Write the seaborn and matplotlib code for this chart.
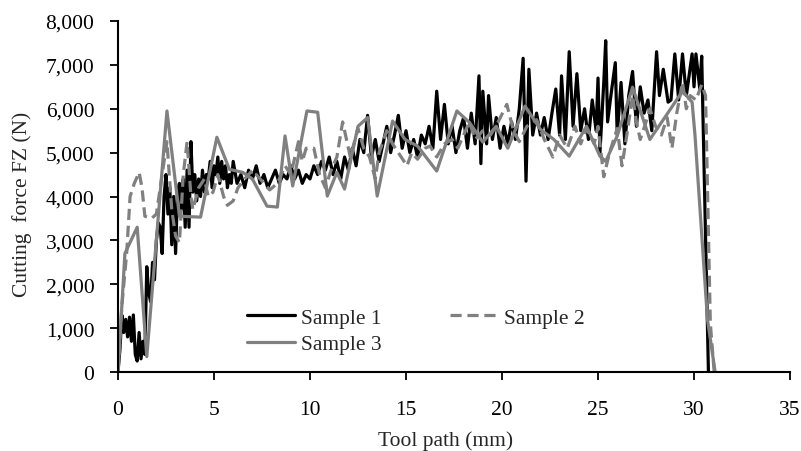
import numpy as np
import pandas as pd
import matplotlib
matplotlib.use("Agg")
import matplotlib.pyplot as plt
import seaborn as sns

# Sample 1 (black, dense)
s1_x = [0.0, 0.1, 0.2, 0.3, 0.4, 0.5, 0.6, 0.7, 0.8, 0.9, 1.0, 1.1, 1.2, 1.3, 1.4,
        1.5, 1.6, 1.7, 1.8, 1.9, 2.0, 2.1, 2.2, 2.3, 2.4, 2.5, 2.6, 2.7, 2.8, 2.9,
        3.0, 3.1, 3.2, 3.3, 3.4, 3.5, 3.6, 3.7, 3.8, 3.9, 4.0, 4.1, 4.2, 4.3, 4.4,
        4.5, 4.6, 4.7, 4.8, 4.9, 5.0, 5.1, 5.2, 5.3, 5.4, 5.5, 5.6, 5.7, 5.8, 5.9,
        6.0, 6.2, 6.4, 6.6, 6.8, 7.0, 7.2, 7.4, 7.6, 7.8, 8.0, 8.2, 8.4, 8.6, 8.8,
        9.0, 9.2, 9.4, 9.6, 9.8, 10.0, 10.2, 10.4, 10.6, 10.8, 11.0, 11.2, 11.4,
        11.6, 11.8, 12.0, 12.2, 12.4, 12.6, 12.8, 13.0, 13.2, 13.4, 13.6, 13.8,
        14.0, 14.2, 14.4, 14.6, 14.8, 15.0, 15.2, 15.4, 15.6, 15.8, 16.0, 16.2,
        16.4, 16.6, 16.8, 17.0, 17.2, 17.4, 17.6, 17.8, 18.0, 18.2, 18.4, 18.6,
        18.8, 18.9, 19.0, 19.2, 19.3, 19.5, 19.7, 19.9, 20.1, 20.3, 20.5, 20.7,
        20.9, 21.1, 21.25, 21.4, 21.6, 21.8, 22.0, 22.2, 22.4, 22.6, 22.8, 23.0,
        23.1, 23.3, 23.5, 23.7, 23.9, 24.1, 24.3, 24.5, 24.7, 24.9, 25.0, 25.1,
        25.3, 25.4, 25.5, 25.7, 25.9, 26.0, 26.2, 26.4, 26.6, 26.8, 27.0, 27.2,
        27.4, 27.6, 27.8, 28.05, 28.2, 28.4, 28.65, 28.8, 29.0, 29.2, 29.4, 29.6,
        29.9, 30.0, 30.1, 30.3, 30.4, 30.75]
s1_y = [0, 500, 1300, 900, 1200, 800, 1250, 700, 1300, 400, 250, 900, 300, 700, 400,
        2400, 1800, 1600, 2500, 2100, 3000, 3400, 3300, 2700, 4000, 4500, 3600, 4200, 2900, 4000,
        2700, 4100, 4300, 3700, 4400, 3300, 4600, 3300, 5250, 4100, 4500, 3900, 4400, 4000, 4600,
        4100, 4500, 4400, 4800, 4200, 4700, 4500, 4900, 4300, 4800, 4400, 4700, 4200, 4500, 4300,
        4800, 4300, 4500, 4200, 4600, 4400, 4700, 4300, 4500, 4200, 4400, 4600, 4300, 4500, 4400,
        4700, 4400, 4600, 4300, 4500, 4400, 4700, 4500, 4800, 4600, 4900, 4500, 4800,
        4400, 4900, 4600, 5100, 4700, 5300, 5000, 5850, 4900, 5300, 4800, 5200,
        5600, 5000, 5400, 5850, 5100, 5500, 5000, 5300, 4900, 5400, 5200, 5600,
        5100, 6400, 5300, 6100, 5200, 5600, 5000, 5500, 5800, 5100, 5900, 5200,
        6750, 4750, 6400, 5200, 6300, 5300, 5800, 5100, 5600, 5200, 5700, 5300,
        6000, 7150, 4350, 6900, 5400, 5900, 5400, 5800, 5300, 5900, 6450, 5400,
        6750, 5300, 7300, 5600, 6800, 5500, 6000, 5300, 6200, 5500, 6700, 5000,
        6600, 7550, 5700, 6400, 7050, 5400, 6600, 5200, 6300, 6850, 5600, 6500,
        5900, 6200, 5500, 7300, 6300, 6900, 6150, 6200, 7250, 6200, 7250, 6300,
        7250, 6500, 7250, 6450, 7200, 0]

# Sample 2 (grey dashed)
s2_x = [0.0, 0.2, 0.45, 0.63, 0.85, 1.1, 1.25, 1.4, 1.75, 2.0, 2.2, 2.55, 2.8, 3.0,
        3.2, 3.4, 3.6, 3.8, 3.9, 4.2, 4.5, 4.7, 4.95, 5.2, 5.5, 5.7, 6.0, 6.25, 6.6,
        7.0, 7.4, 7.9, 8.3, 8.7, 9.0, 9.4, 9.6, 9.8, 10.2, 10.5, 10.8, 11.1, 11.4,
        11.7, 12.1, 12.5, 12.8, 13.1, 13.4, 13.6, 14.0, 14.3, 14.6, 15.05, 15.3,
        15.6, 16.0, 16.25, 16.6, 17.0, 17.4, 17.7, 18.0, 18.3, 18.6, 19.0, 19.4,
        19.8, 20.25, 20.6, 20.9, 21.3, 21.8, 22.2, 22.65, 23.0, 23.4, 23.8, 24.1,
        24.4, 24.8, 25.0, 25.3, 25.6, 26.0, 26.25, 26.5, 26.8, 27.0, 27.2, 27.5,
        27.7, 28.0, 28.3, 28.6, 28.85, 29.1, 29.4, 29.6, 29.8, 30.1, 30.4, 30.6,
        30.85, 31.05]
s2_y = [0, 1500, 2700, 4000, 4300, 4550, 4200, 3550, 3500, 3600, 4200, 5250, 3700, 3100,
        2950, 4500, 5250, 4000, 3700, 4200, 4400, 4000, 4100, 4500, 4000, 3800, 3900, 4200, 4400,
        4600, 4400, 4150, 4300, 4700, 4500, 5250, 4800, 5100, 5100, 4500, 4200, 4600, 4900,
        5700, 4900, 5550, 5100, 4900, 4400, 5000, 5500, 5200, 5000, 4700, 5000,
        4850, 5100, 5150, 4900, 5200, 5300, 5100, 5400, 5700, 5300, 5500, 5400,
        5700, 6100, 5500, 5250, 5600, 5750, 5300, 4900, 5400, 5100, 5600, 5200,
        5550, 5200, 5600, 4450, 5000, 5550, 4700, 5400, 6300, 5700, 5300, 5700,
        6000, 5600, 5400, 5800, 5100, 5900, 6600, 6000, 6300, 6200, 6550, 6300,
        1100, 0]

# Sample 3 (grey solid)
s3_x = [0.0, 0.36, 1.0, 1.5, 2.55, 3.2, 4.3, 5.15, 5.8, 6.5, 7.0, 7.76, 8.3, 8.7, 9.1,
        9.84, 10.4, 10.9, 11.4, 11.8, 12.5, 13.0, 13.5, 14.3, 14.95, 15.6, 16.6, 17.65,
        18.3, 19.0, 19.7, 20.3, 21.2, 22.0, 22.7, 23.5, 24.4, 25.1, 25.4, 26.0, 26.8,
        27.7, 28.6, 29.4, 29.9, 30.05, 30.7, 31.1]
s3_y = [0, 2700, 3300, 350, 5950, 3550, 3530, 5350, 4620, 4550, 4400, 3780, 3760, 5380, 4240,
        5950, 5920, 4010, 4550, 4170, 5600, 5800, 4010, 5720, 5300, 5150, 4580, 5950,
        5690, 5240, 5600, 5100, 6060, 5530, 5300, 4920, 5600, 4920, 4800, 5380, 6490,
        5300, 5880, 6400, 6150, 5400, 1200, 0]

x_ticks = [0, 5, 10, 15, 20, 25, 30, 35]
y_ticks = [0, 1000, 2000, 3000, 4000, 5000, 6000, 7000, 8000]

sns.set_style("ticks")
plt.rcParams["font.family"] = ["Liberation Serif", "DejaVu Serif"]
fs = 15.5
plt.rcParams["font.size"] = fs

fig = plt.figure(figsize=(8.01, 4.52), dpi=100)
ax = fig.add_axes([0.1473, 0.1748, 0.8390, 0.7765])

grey = "#808080"
lw = 2.3
sns.lineplot(x=s1_x, y=s1_y, ax=ax, color="black", linewidth=lw, label="Sample 1",
             estimator=None, sort=False)
sns.lineplot(x=s3_x, y=s3_y, ax=ax, color=grey, linewidth=lw, label="Sample 3",
             estimator=None, sort=False)
sns.lineplot(x=s2_x, y=s2_y, ax=ax, color=grey, linewidth=lw, label="Sample 2",
             estimator=None, sort=False, linestyle=(0, (3.5, 1.8)))

ax.set_xlim(0, 35)
ax.set_ylim(0, 8000)
ax.set_xticks(x_ticks)
ax.set_yticks(y_ticks)
ax.set_yticklabels([f"{v:,}" for v in y_ticks])
ax.set_xlabel("Tool path (mm)")
ax.set_ylabel("Cutting  force FZ (N)")
ax.xaxis.set_label_coords(0.488, -0.165)
ax.yaxis.set_label_coords(-0.128, 0.48)
sns.despine(ax=ax)
for s in ["left", "bottom"]:
    ax.spines[s].set_linewidth(1.5)
    ax.spines[s].set_color("black")
ax.tick_params(axis="both", direction="out", length=6, width=1.3, colors="black",
               labelsize=fs)
ax.tick_params(axis="y", pad=11)
ax.tick_params(axis="x", pad=14)

handles, labels = ax.get_legend_handles_labels()
ax.legend(handles, labels, ncol=2, frameon=False, loc="upper left",
          bbox_to_anchor=(0.192, 0.183), borderaxespad=0, borderpad=0,
          handlelength=2.25, handletextpad=0.25, columnspacing=3.2, labelspacing=0.3,
          fontsize=fs)

fig.savefig("out.png", dpi=100)
